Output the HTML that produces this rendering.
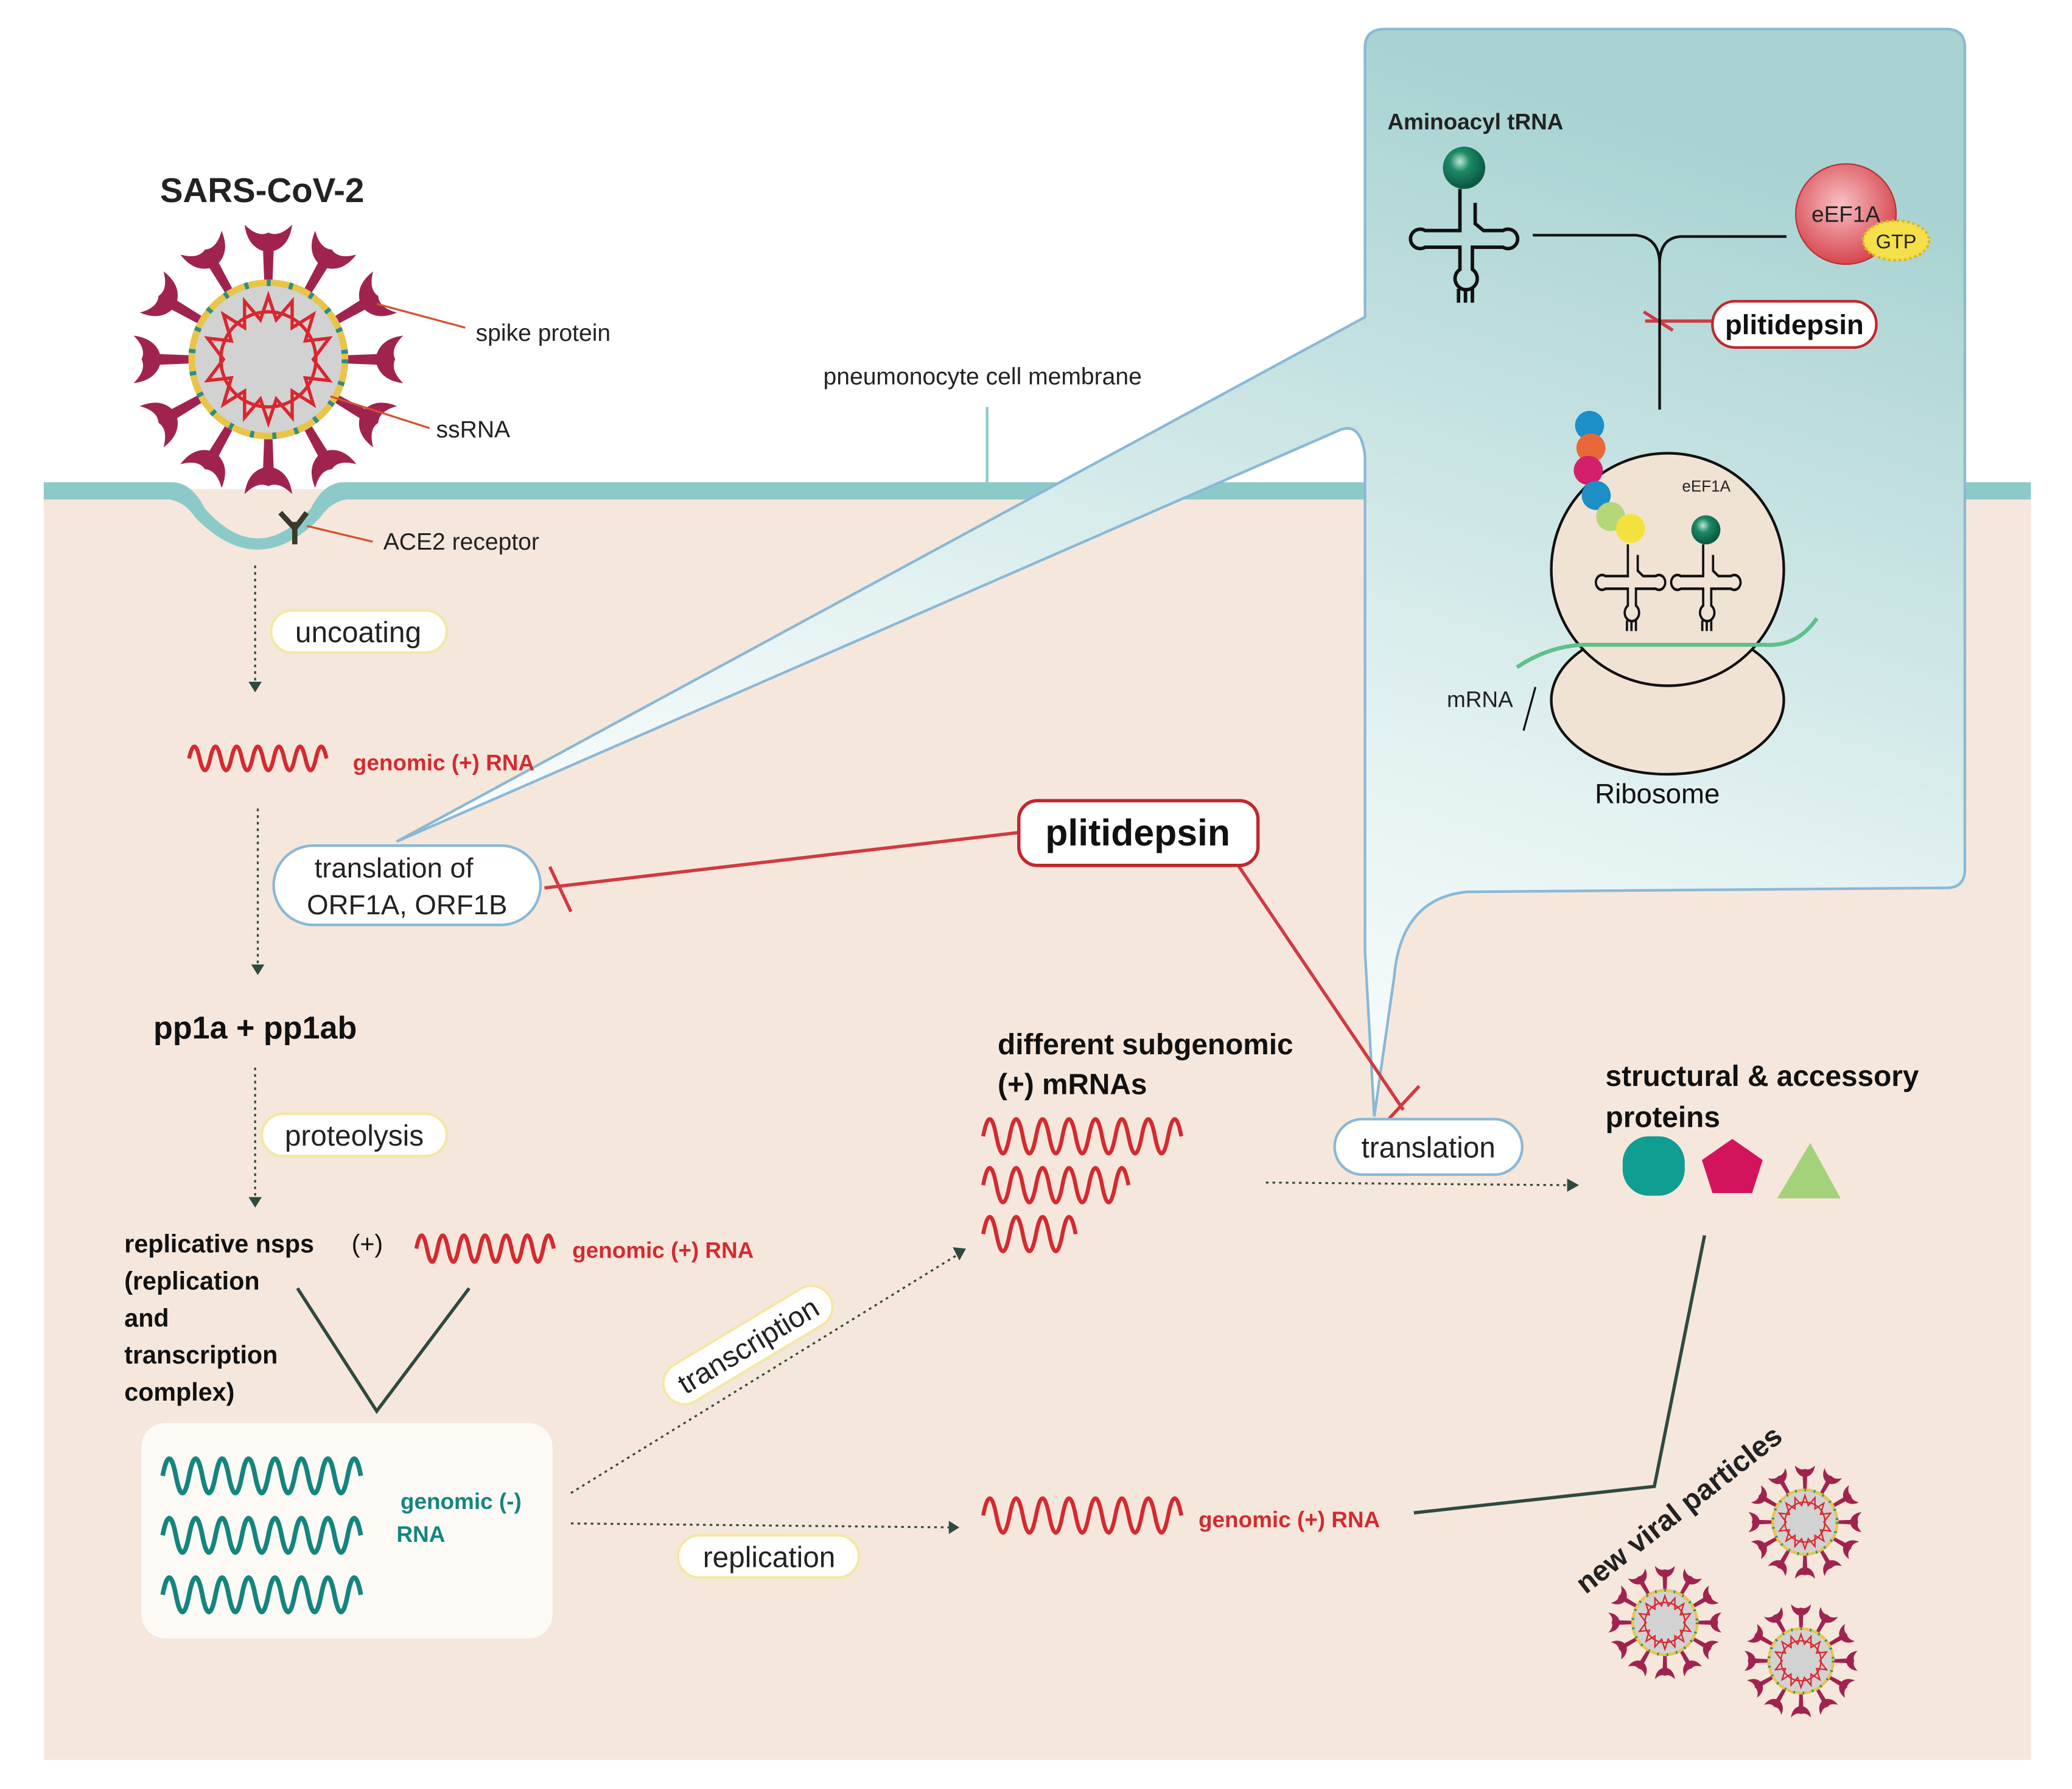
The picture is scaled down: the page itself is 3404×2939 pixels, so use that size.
<!DOCTYPE html>
<html><head><meta charset="utf-8"><style>
html,body{margin:0;padding:0;background:#fff;}
svg{display:block;}
text{font-family:"Liberation Sans",sans-serif;}
</style></head><body>
<svg width="3404" height="2939" viewBox="0 0 1568 1354" xmlns="http://www.w3.org/2000/svg">
<defs>
<linearGradient id="pg" x1="0.2" y1="0.9" x2="0.6" y2="0">
<stop offset="0" stop-color="#ffffff"/><stop offset="0.4" stop-color="#e4f2f2"/><stop offset="1" stop-color="#a8d3d2"/></linearGradient>
<radialGradient id="gb" cx="0.4" cy="0.35" r="0.6"><stop offset="0" stop-color="#bfe7d6"/><stop offset="0.4" stop-color="#1d8a66"/><stop offset="1" stop-color="#0c5a45"/></radialGradient>
<radialGradient id="rb" cx="0.45" cy="0.4" r="0.6"><stop offset="0" stop-color="#f7c0c4"/><stop offset="1" stop-color="#d8464f"/></radialGradient>
<g id="spike"><path d="M-18,-102 Q-16,-86 -4,-82 L-3,-56 L3,-56 L4,-82 Q16,-86 18,-102 Q8,-92 0,-96 Q-8,-92 -18,-102 Z" fill="#a0234f"/></g>
<g id="virus">
<use href="#spike"/><use href="#spike" transform="rotate(30)"/><use href="#spike" transform="rotate(60)"/><use href="#spike" transform="rotate(90)"/><use href="#spike" transform="rotate(120)"/><use href="#spike" transform="rotate(150)"/><use href="#spike" transform="rotate(180)"/><use href="#spike" transform="rotate(210)"/><use href="#spike" transform="rotate(240)"/><use href="#spike" transform="rotate(270)"/><use href="#spike" transform="rotate(300)"/><use href="#spike" transform="rotate(330)"/>
<circle r="58" fill="#d2d2d2" stroke="#e8c54a" stroke-width="5"/>
<circle r="58" fill="none" stroke="#2e8d86" stroke-width="5" stroke-dasharray="3 14"/>
<circle r="36" fill="none" stroke="#d9262f" stroke-width="2.5" stroke-dasharray="0"/>
<path d="M0,-48 L6,-30 L18,-44 L18,-24 L34,-34 L28,-14 L46,-16 L34,0 L46,16 L28,14 L34,34 L18,24 L18,44 L6,30 L0,48 L-6,30 L-18,44 L-18,24 L-34,34 L-28,14 L-46,16 L-34,0 L-46,-16 L-28,-14 L-34,-34 L-18,-24 L-18,-44 L-6,-30 Z" fill="none" stroke="#d9262f" stroke-width="2.5"/>
</g>
<g id="trna" fill="none" stroke="#111" stroke-width="2.5">
<path d="M-3,0 L-3,30 L-28,30 A7,7 0 1 0 -28,42 L-3,42 L-3,58 A8,8 0 1 0 6,58 L6,42 L28,42 A7,7 0 1 0 28,30 L14,30 L8,25 L8,10"/>
<path d="M-4,72 L-4,82 M1,72 L1,82 M6,72 L6,82"/>
</g>
</defs>

<rect x="33" y="370" width="1504" height="962" fill="#f6e7dc"/>
<path d="M33,365 L130,365 Q145,365 155,385 Q195,430 235,385 Q245,365 260,365 L1537,365 L1537,378 L262,378 Q250,380 242,392 Q195,440 148,392 Q140,380 128,378 L33,378 Z" fill="#8ccac9"/>
<line x1="747" y1="308" x2="747" y2="365" stroke="#8ccac9" stroke-width="2"/>

<path d="M1048,22 L1473,22 Q1487,22 1487,36 L1487,658 Q1487,672 1473,672 L1110,675 Q1060,680 1055,740 L1040,845 L1033,720 L1033,345 Q1030,320 1015,325 L300,637 L1033,240 L1033,36 Q1033,22 1048,22 Z" fill="url(#pg)" stroke="#8ab8d6" stroke-width="2"/>

<use href="#virus" transform="translate(203,272)"/>
<text x="121" y="153" font-size="26" font-weight="bold" fill="#222">SARS-CoV-2</text>
<line x1="285" y1="230" x2="352" y2="248" stroke="#d4502a" stroke-width="1.5"/>
<text x="360" y="258" font-size="18" fill="#222">spike protein</text>
<line x1="250" y1="300" x2="325" y2="324" stroke="#d4502a" stroke-width="1.5"/>
<text x="330" y="331" font-size="18" fill="#222">ssRNA</text>
<path d="M223,412 L223,395 M223,400 L212,388 M223,400 L232,388" stroke="#3a3a2a" stroke-width="4" fill="none"/>
<line x1="232" y1="398" x2="282" y2="410" stroke="#d4502a" stroke-width="1.5"/>
<text x="290" y="416" font-size="18" fill="#222">ACE2 receptor</text>
<text x="623" y="291" font-size="18" fill="#222">pneumonocyte cell membrane</text>

<g stroke="#2f4a3e" stroke-width="1.5" stroke-dasharray="2 3" fill="none">
<line x1="193" y1="428" x2="193" y2="516"/><line x1="195" y1="612" x2="195" y2="730"/><line x1="193" y1="808" x2="193" y2="906"/>
<line x1="432" y1="1130" x2="724" y2="950"/><line x1="432" y1="1153" x2="718" y2="1156"/><line x1="958" y1="895" x2="1186" y2="897"/>
</g>
<g fill="#2f4a3e">
<path d="M188,516 L198,516 L193,524 Z"/><path d="M190,730 L200,730 L195,738 Z"/><path d="M188,906 L198,906 L193,914 Z"/>
<path d="M721,944 L731,945 L726,954 Z"/><path d="M718,1151 L726,1156 L718,1161 Z"/><path d="M1186,892 L1195,897 L1186,902 Z"/>
</g>
<rect x="205" y="462" width="133" height="32" rx="16" fill="#fff" stroke="#f3e7a6" stroke-width="2"/>
<text x="271" y="486" font-size="22" text-anchor="middle" fill="#222">uncoating</text>

<g fill="none" stroke="#d42a30" stroke-width="3">
<path d="M143,574 q4,-18 8,0 t8,0 t8,0 t8,0 t8,0 t8,0 t8,0 t8,0 t8,0 t8,0 t8,0 t8,0 t8,0"/>
<path d="M315,945 q4,-20 8,0 t8,0 t8,0 t8,0 t8,0 t8,0 t8,0 t8,0 t8,0 t8,0 t8,0 t8,0 t8,0"/>
<path d="M744,860 q5,-26 10,0 t10,0 t10,0 t10,0 t10,0 t10,0 t10,0 t10,0 t10,0 t10,0 t10,0 t10,0 t10,0 t10,0 t10,0"/>
<path d="M744,897 q5,-26 10,0 t10,0 t10,0 t10,0 t10,0 t10,0 t10,0 t10,0 t10,0 t10,0 t10,0"/>
<path d="M744,934 q5,-26 10,0 t10,0 t10,0 t10,0 t10,0 t10,0 t10,0"/>
<path d="M744,1147 q5,-26 10,0 t10,0 t10,0 t10,0 t10,0 t10,0 t10,0 t10,0 t10,0 t10,0 t10,0 t10,0 t10,0 t10,0 t10,0"/>
</g>
<text x="267" y="583" font-size="17" font-weight="bold" fill="#d42a30">genomic (+) RNA</text>
<text x="433" y="952" font-size="17" font-weight="bold" fill="#d42a30">genomic (+) RNA</text>
<text x="907" y="1156" font-size="17" font-weight="bold" fill="#d42a30">genomic (+) RNA</text>

<rect x="207" y="640" width="202" height="60" rx="30" fill="#fff" stroke="#8ab8d6" stroke-width="2"/>
<text x="298" y="664" font-size="21" text-anchor="middle" fill="#222">translation of</text>
<text x="308" y="692" font-size="21" text-anchor="middle" fill="#222">ORF1A, ORF1B</text>

<g stroke="#d03a40" stroke-width="2.5" fill="none">
<line x1="412" y1="672" x2="772" y2="630"/><line x1="416" y1="656" x2="432" y2="690"/>
<line x1="935" y1="652" x2="1062" y2="840"/><line x1="1050" y1="848" x2="1074" y2="822"/>
<line x1="1245" y1="243" x2="1296" y2="243"/><line x1="1244" y1="236" x2="1266" y2="250"/>
</g>
<rect x="771" y="606" width="181" height="49" rx="14" fill="#fff" stroke="#c0272d" stroke-width="2.5"/>
<text x="861" y="640" font-size="28" font-weight="bold" text-anchor="middle" fill="#111">plitidepsin</text>

<text x="116" y="786" font-size="24" font-weight="bold" fill="#111">pp1a + pp1ab</text>
<rect x="198" y="843" width="140" height="32" rx="16" fill="#fff" stroke="#f3e7a6" stroke-width="2"/>
<text x="268" y="867" font-size="22" text-anchor="middle" fill="#222">proteolysis</text>

<g font-size="19" font-weight="bold" fill="#111">
<text x="94" y="948">replicative nsps</text><text x="266" y="948" font-weight="normal">(+)</text>
<text x="94" y="976">(replication</text><text x="94" y="1004">and</text><text x="94" y="1032">transcription</text><text x="94" y="1060">complex)</text>
</g>
<polyline points="225,975 285,1068 355,975" fill="none" stroke="#2f4a3e" stroke-width="2.5"/>

<rect x="107" y="1077" width="311" height="163" rx="18" fill="#fdfaf6"/>
<g fill="none" stroke="#14857e" stroke-width="3.5">
<path d="M123,1117 q5,-26 10,0 t10,0 t10,0 t10,0 t10,0 t10,0 t10,0 t10,0 t10,0 t10,0 t10,0 t10,0 t10,0 t10,0 t10,0"/>
<path d="M123,1162 q5,-26 10,0 t10,0 t10,0 t10,0 t10,0 t10,0 t10,0 t10,0 t10,0 t10,0 t10,0 t10,0 t10,0 t10,0 t10,0"/>
<path d="M123,1207 q5,-26 10,0 t10,0 t10,0 t10,0 t10,0 t10,0 t10,0 t10,0 t10,0 t10,0 t10,0 t10,0 t10,0 t10,0 t10,0"/>
</g>
<text x="303" y="1142" font-size="17" font-weight="bold" fill="#14857e">genomic (-)</text>
<text x="300" y="1167" font-size="17" font-weight="bold" fill="#14857e">RNA</text>

<g transform="translate(566,1018) rotate(-31)">
<rect x="-72" y="-16" width="144" height="32" rx="16" fill="#fff" stroke="#f3e7a6" stroke-width="2"/>
<text x="0" y="8" font-size="22" text-anchor="middle" fill="#222">transcription</text></g>
<rect x="513" y="1162" width="137" height="32" rx="16" fill="#fff" stroke="#f3e7a6" stroke-width="2"/>
<text x="582" y="1186" font-size="22" text-anchor="middle" fill="#222">replication</text>

<text x="755" y="798" font-size="22" font-weight="bold" fill="#111">different subgenomic</text>
<text x="755" y="828" font-size="22" font-weight="bold" fill="#111">(+) mRNAs</text>

<rect x="1010" y="847" width="142" height="42" rx="21" fill="#fff" stroke="#8ab8d6" stroke-width="2"/>
<text x="1081" y="876" font-size="22" text-anchor="middle" fill="#222">translation</text>

<text x="1215" y="822" font-size="22" font-weight="bold" fill="#111">structural &amp; accessory</text>
<text x="1215" y="853" font-size="22" font-weight="bold" fill="#111">proteins</text>
<rect x="1228" y="860" width="47" height="45" rx="20" fill="#0f9e91"/>
<polygon points="1311,862 1334,878 1326,903 1296,903 1288,878" fill="#d3145d"/>
<polygon points="1345,907 1370,865 1393,907" fill="#a4d27a"/>

<polyline points="1290,935 1252,1125 1070,1145" fill="none" stroke="#2f4a3e" stroke-width="2.5"/>
<text transform="translate(1200,1207) rotate(-38)" font-size="22" font-weight="bold" fill="#222">new viral particles</text>
<use href="#virus" transform="translate(1366,1152) scale(0.42)"/>
<use href="#virus" transform="translate(1260,1228) scale(0.42)"/>
<use href="#virus" transform="translate(1363,1257) scale(0.42)"/>

<text x="1050" y="98" font-size="17" font-weight="bold" fill="#222">Aminoacyl tRNA</text>
<circle cx="1108" cy="127" r="16" fill="url(#gb)"/>
<use href="#trna" transform="translate(1108,143) scale(1.05)"/>
<path d="M1160,178 L1238,178 Q1256,180 1256,200 L1256,310 M1256,200 Q1256,180 1272,179 L1352,179" fill="none" stroke="#111" stroke-width="2"/>
<circle cx="1397" cy="162" r="38" fill="url(#rb)" stroke="#b8303a" stroke-width="1"/>
<text x="1397" y="168" font-size="17" text-anchor="middle" fill="#222">eEF1A</text>
<ellipse cx="1435" cy="182" rx="25" ry="15" fill="#f5e04a" stroke="#d8b820" stroke-width="2" stroke-dasharray="2 2"/>
<text x="1435" y="188" font-size="15" text-anchor="middle" fill="#222">GTP</text>
<rect x="1296" y="228" width="124" height="35" rx="17" fill="#fff" stroke="#c0272d" stroke-width="2"/>
<text x="1358" y="253" font-size="21" font-weight="bold" text-anchor="middle" fill="#111">plitidepsin</text>

<ellipse cx="1262" cy="530" rx="88" ry="56" fill="#f0e3d4" stroke="#111" stroke-width="2"/>
<circle cx="1262" cy="431" r="88" fill="#f0e3d4" stroke="#111" stroke-width="2"/>
<path d="M1148,505 Q1175,487 1205,488 L1335,488 Q1360,490 1375,468" fill="none" stroke="#5ec08a" stroke-width="3"/>
<text x="1273" y="372" font-size="12" fill="#222">eEF1A</text>
<circle cx="1291" cy="401" r="11" fill="url(#gb)"/>
<use href="#trna" transform="translate(1234,412) scale(0.68,0.8)"/>
<use href="#trna" transform="translate(1291,412) scale(0.68,0.8)"/>
<circle cx="1203" cy="322" r="11" fill="#1c8fc9"/>
<circle cx="1204" cy="339" r="11" fill="#e8683a"/>
<circle cx="1202" cy="356" r="11" fill="#d41f6c"/>
<circle cx="1208" cy="375" r="11" fill="#1c8fc9"/>
<circle cx="1219" cy="391" r="11" fill="#b6d67a"/>
<circle cx="1234" cy="400" r="11" fill="#f4e23c"/>
<text x="1095" y="535" font-size="17" fill="#222">mRNA</text>
<line x1="1153" y1="553" x2="1162" y2="520" stroke="#111" stroke-width="1.5"/>
<text x="1207" y="608" font-size="21" fill="#111">Ribosome</text>
</svg>
</body></html>
